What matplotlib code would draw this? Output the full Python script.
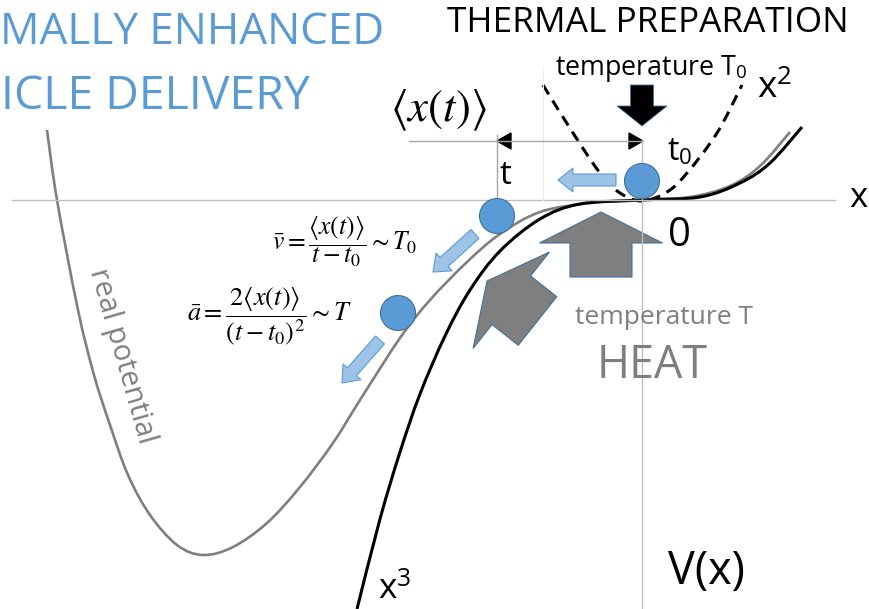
import numpy as np
import matplotlib.pyplot as plt
from matplotlib.path import Path
from matplotlib.patches import PathPatch, Circle, FancyArrow, Polygon

plt.rcParams['font.family'] = ['Open Sans', 'DejaVu Sans']
plt.rcParams['mathtext.fontset'] = 'stix'

# curves (pixel coords, y down)
real_x = [47, 57, 78, 94, 110, 128, 150, 177, 203, 233, 267, 300, 333, 360, 400, 430, 467, 500, 540, 590, 642, 690, 730, 760, 790]
real_y = [130, 200, 310, 375, 425, 475, 515, 545, 555, 547, 523, 487, 443, 400, 338, 300, 262, 234, 212, 203, 200, 197, 186, 166, 132]

cube_x = [357, 380, 400, 420, 445, 470, 500, 540, 580, 642, 700, 740, 770, 802]
cube_y = [609, 519, 452, 394, 336, 290, 251, 219, 204, 200, 197, 183, 163, 127]

sq_x = [543, 573, 600, 620, 642, 667, 687, 717, 742]
sq_y = [85, 133, 173, 193, 201, 192, 173, 133, 85]

# particles
ball_x = [642, 497, 398]
ball_y = [181, 216, 313]


def smooth_path(xs, ys):
    # catmull-rom through the read points, drawn as bezier segments
    p = np.column_stack([xs, ys]).astype(float)
    p = np.vstack([p[0], p, p[-1]])
    verts = [p[1]]
    codes = [Path.MOVETO]
    for i in range(1, len(p) - 2):
        c1 = p[i] + (p[i + 1] - p[i - 1]) / 6
        c2 = p[i + 1] - (p[i + 2] - p[i]) / 6
        verts += [c1, c2, p[i + 1]]
        codes += [Path.CURVE4] * 3
    return Path(verts, codes)


fig = plt.figure(figsize=(8.69, 6.09), dpi=100)
ax = fig.add_axes([0, 0, 1, 1])
ax.set_xlim(0, 869)
ax.set_ylim(609, 0)
ax.axis('off')
renderer = fig.canvas.get_renderer()


def fit_text(x, y, s, width, **kw):
    # put a text and scale it so it spans `width` pixels
    t = ax.text(x, y, s, fontsize=20, **kw)
    w = t.get_window_extent(renderer).width
    t.set_fontsize(20 * width / w)
    return t


# axes and guide lines
ax.plot([12, 835], [200, 200], color='#BFBFBF', lw=1)
ax.plot([642, 642], [140, 609], color='#BFBFBF', lw=1)
ax.plot([543, 543], [67, 200], color='#EDEDED', lw=0.8)
ax.plot([497, 497], [135, 200], color='#A6A6A6', lw=1)
ax.plot([409, 642], [141, 141], color='#A6A6A6', lw=1)
ax.add_patch(Polygon([[497, 141], [511, 133], [511, 149]], closed=True, color='black'))
ax.add_patch(Polygon([[643, 141], [629, 133], [629, 149]], closed=True, color='black'))

# potentials
ax.add_patch(PathPatch(smooth_path(real_x, real_y), fill=False, ec='#7F7F7F', lw=1.9))
ax.add_patch(PathPatch(smooth_path(cube_x, cube_y), fill=False, ec='black', lw=2.2))
ax.add_patch(PathPatch(smooth_path(sq_x, sq_y), fill=False, ec='black', lw=2.2, ls=(0, (3.6, 2.4))))

# heat arrows
ax.add_patch(FancyArrow(601, 277, 0, -65, width=62, head_width=123, head_length=31,
                        length_includes_head=True, fc='#7F7F7F', ec='#41719C', lw=0.8))
ax.add_patch(FancyArrow(537.5, 321, -50.5, -40, width=62, head_width=123, head_length=31,
                        length_includes_head=True, fc='#7F7F7F', ec='#41719C', lw=0.8))
# cooling arrow (T0)
ax.add_patch(FancyArrow(642, 85, 0, 41, width=23, head_width=50, head_length=20,
                        length_includes_head=True, fc='black', ec='#41719C', lw=0.6))

# particle motion arrows
blue_fill, blue_edge = '#9DC3E6', '#5B9BD5'
for x0, y0, dx, dy in [(616, 180, -58, 0), (475, 234, -42, 38), (380, 340, -38, 43)]:
    ax.add_patch(FancyArrow(x0, y0, dx, dy, width=12, head_width=24, head_length=15,
                            length_includes_head=True, fc=blue_fill, ec=blue_edge, lw=0.8))

for bx, by in zip(ball_x, ball_y):
    ax.add_patch(Circle((bx, by), 17.5, fc='#5B9BD5', ec='#41719C', lw=0.8, zorder=5))

# texts
blue = '#5B9BD5'
grey = '#7F7F7F'
fit_text(0, 33, 'MALLY ENHANCED', 385, color=blue, ha='left', va='center')
fit_text(1, 97, 'ICLE DELIVERY', 309, color=blue, ha='left', va='center')
fit_text(447, 23, 'THERMAL PREPARATION', 401, ha='left', va='center')
fit_text(555, 68, r'temperature T$_{\mathregular{0}}$', 192, ha='left', va='center')
fit_text(757, 88, r'x$^{\mathregular{2}}$', 36, ha='left', va='center')
ax.text(667, 152, r't$_{\mathregular{0}}$', fontsize=23, ha='left', va='center')
ax.text(500, 175, 't', fontsize=24, ha='left', va='center')
fit_text(390, 110, r'$\langle x(t)\rangle$', 98, ha='left', va='center')
ax.text(849, 198, 'x', fontsize=25, ha='left', va='center')
ax.text(668, 236, '0', fontsize=29, ha='left', va='center')
fit_text(575, 318, 'temperature T', 177, color=grey, ha='left', va='center')
fit_text(597, 366, 'HEAT', 111, color=grey, ha='left', va='center')
fit_text(668, 572, 'V(x)', 77, ha='left', va='center')
fit_text(378, 590, r'x$^{\mathregular{3}}$', 34, ha='left', va='center')
ax.text(122, 356, 'real potential', color=grey, fontsize=21, rotation=-74,
        ha='center', va='center', rotation_mode='anchor')
fit_text(272, 241, r'$\bar{v} = \dfrac{\langle x(t)\rangle}{t - t_0} \sim T_0$', 145,
         ha='left', va='center')
fit_text(187, 316, r'$\bar{a} = \dfrac{2\langle x(t)\rangle}{(t - t_0)^2} \sim T$', 165,
         ha='left', va='center')

plt.savefig('out.png', dpi=100)
